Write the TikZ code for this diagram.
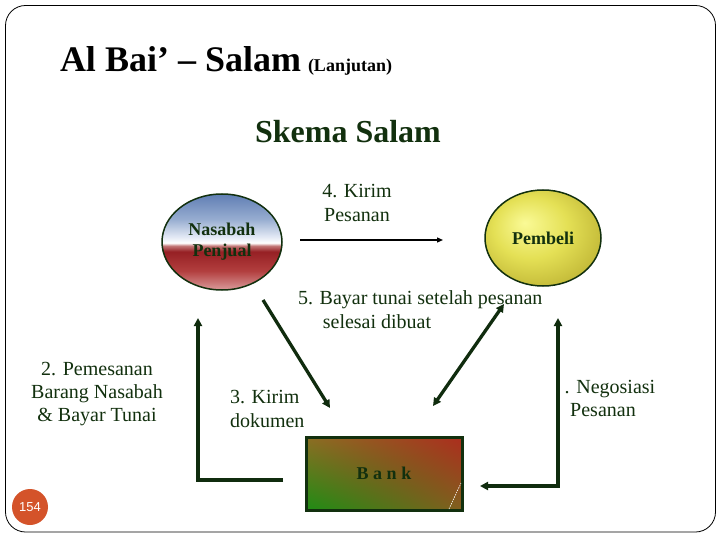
\documentclass[tikz,border=0pt]{standalone}
\usepackage{fontspec}
\setmainfont{Liberation Serif}
\newfontfamily\pagefont{Liberation Sans}
\usetikzlibrary{shapes.geometric,arrows.meta,shadings}
\definecolor{dkgreen}{RGB}{18,48,14}
\definecolor{arrowgreen}{RGB}{16,44,14}
\definecolor{pgnum}{RGB}{212,83,42}
% Nasabah shading colours
\definecolor{nb1}{RGB}{218,155,155}
\definecolor{nb2}{RGB}{178,62,62}
\definecolor{nb3}{RGB}{150,32,36}
\definecolor{nb4}{RGB}{195,120,120}
\definecolor{nb5}{RGB}{255,255,255}
\definecolor{nb6}{RGB}{228,234,245}
\definecolor{nb7}{RGB}{150,172,208}
\definecolor{nb8}{RGB}{96,126,180}
% Pembeli shading colours
\definecolor{pb1}{RGB}{250,250,150}
\definecolor{pb2}{RGB}{228,224,85}
\definecolor{pb3}{RGB}{190,180,52}
% Bank corners
\definecolor{bkul}{RGB}{140,110,35}
\definecolor{bkur}{RGB}{172,45,30}
\definecolor{bkll}{RGB}{30,140,20}
\definecolor{bklr}{RGB}{130,95,30}
\pgfdeclareverticalshading{nasabahshade}{100bp}{color(0bp)=(nb1); color(25bp)=(nb1); color(35bp)=(nb2); color(45bp)=(nb3); color(48bp)=(nb4); color(49.5bp)=(nb5); color(52.5bp)=(nb6); color(62bp)=(nb7); color(75bp)=(nb8); color(100bp)=(nb8)}
\pgfdeclareradialshading{pembshade}{\pgfpoint{-8bp}{8bp}}{color(0bp)=(pb1); color(16bp)=(pb2); color(32bp)=(pb3); color(50bp)=(pb3)}
\begin{document}
\begin{tikzpicture}[x=1pt,y=-1pt,
  every node/.style={inner sep=0pt, outer sep=0pt},
  lbl/.style={font=\fontsize{20}{24}\selectfont, text=dkgreen, anchor=base},
  lblw/.style={lbl, anchor=base west},
  boldlbl/.style={font=\fontsize{18}{21}\bfseries, text=dkgreen, align=center},
  thickarrow/.style={draw=arrowgreen, line width=3.3pt, -{Triangle[length=8pt,width=8pt]}},
  thickdouble/.style={draw=arrowgreen, line width=3.3pt, {Triangle[length=8pt,width=8pt]}-{Triangle[length=8pt,width=8pt]}},
  thinarrow/.style={draw=black, line width=1.3pt, -{Triangle[length=6pt,width=5pt]}}]
\useasboundingbox (0,0) rectangle (720,540);
\fill[white] (0,0) rectangle (720,540);
% frame
\draw[rounded corners=20pt, line width=0.8pt] (5.5,5.5) rectangle (715.5,532);
% titles
\node[anchor=base west, font=\fontsize{36}{43}\bfseries] (title) at (60,72) {Al Bai’ – Salam};
\node[anchor=base west, font=\fontsize{18}{21}\bfseries] (lanj) at (308,72) {(Lanjutan)};
\node[anchor=base, font=\fontsize{32}{38}\bfseries, text=dkgreen] (skema) at (348,143) {Skema Salam};
% main shapes
\node[ellipse, draw=dkgreen, line width=1.5pt, shade, shading=nasabahshade, minimum width=120pt, minimum height=96pt, boldlbl] (nasabah) at (222,242) {Nasabah\\Penjual};
\node[ellipse, draw=dkgreen, line width=1.5pt, shade, shading=pembshade, minimum width=116pt, minimum height=96pt, boldlbl] (pembeli) at (543,238) {Pembeli};
\node[draw=dkgreen, line width=3pt, upper left=bkul, upper right=bkur, lower left=bkll, lower right=bklr, minimum width=156pt, minimum height=73pt, boldlbl] (bank) at (384,473.5) {B a n k};
\coordinate (wd1) at (449,509);
\coordinate (wd2) at (461,483);
\draw[white, line width=0.6pt, dash pattern=on 1.5pt off 1pt] (wd1) -- (wd2);
% connector end points
\coordinate (a4s) at (300,240);
\coordinate (a4e) at (443,240);
\coordinate (lb) at (283,480);
\coordinate (lt) at (198,318);
\coordinate (rt) at (558,318);
\coordinate (rb) at (480,486);
\coordinate (d3s) at (263,300);
\coordinate (d3e) at (330,408);
\coordinate (d5s) at (504,304);
\coordinate (d5e) at (433,406);
% connectors
\draw[thinarrow] (a4s) -- (a4e);
\draw[thickarrow] (lb) -| (lt);
\draw[thickdouble] (rt) |- (rb);
\draw[thickarrow] (d3s) -- (d3e);
\draw[thickdouble] (d5s) -- (d5e);
% labels
\node[lbl] (t4a) at (357,198) {4. Kirim};
\node[lbl] (t4b) at (357,222) {Pesanan};
\node[lblw] (t5a) at (298,304) {5. Bayar tunai setelah pesanan};
\node[lbl] (t5b) at (377,328) {selesai dibuat};
\node[lbl] (t2a) at (97,375) {2. Pemesanan};
\node[lbl] (t2b) at (97,398) {Barang Nasabah};
\node[lbl] (t2c) at (97,421) {\& Bayar Tunai};
\node[lblw] (t3a) at (230,403) {3. Kirim};
\node[lblw] (t3b) at (230,427) {dokumen};
\node[lbl] (t1a) at (605,393) {\phantom{1}. Negosiasi};
\node[lbl] (t1b) at (603,416) {Pesanan};
% page number
\node[circle, fill=pgnum, minimum size=36pt, text=white, font=\pagefont\fontsize{13}{13}\selectfont] (pg) at (30,507) {154};
\end{tikzpicture}
\end{document}
